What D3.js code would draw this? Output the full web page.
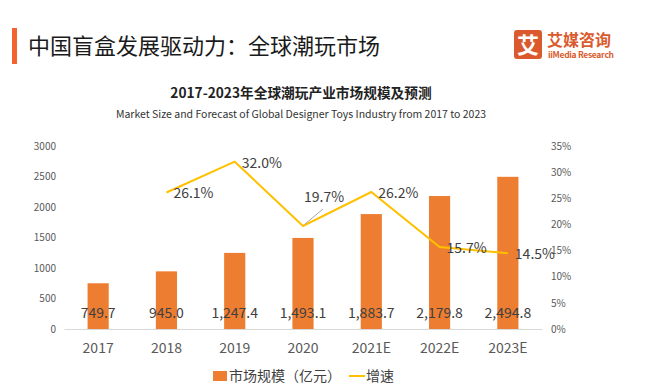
<!DOCTYPE html>
<html>
<head>
<meta charset="utf-8">
<style>
  body { margin: 0; background: #fff; }
  text { font-family: "Noto Sans CJK SC", "Noto Sans", sans-serif; }
</style>
</head>
<body>
<script src="https://d3js.org/d3.v7.min.js"></script>
<script>
var width = 650, height = 389;

// data
var years = ["2017", "2018", "2019", "2020", "2021E", "2022E", "2023E"];
var marketSize = [749.7, 945.0, 1247.4, 1493.1, 1883.7, 2179.8, 2494.8];
var growth = [null, 26.1, 32.0, 19.7, 26.2, 15.7, 14.5];
var leftTicks = [0, 500, 1000, 1500, 2000, 2500, 3000];
var rightTicks = [0, 5, 10, 15, 20, 25, 30, 35];

var barColor = "#ED7D31", lineColor = "#FFC000";

var svg = d3.select("body").append("svg")
    .attr("width", width)
    .attr("height", height);

// header
svg.append("rect").attr("x", 12).attr("y", 28).attr("width", 5).attr("height", 36).attr("fill", "#F4622F");
svg.append("text").attr("x", 28).attr("y", 46).attr("dy", "0.35em")
    .attr("font-size", 22).attr("fill", "#1a1a1a")
    .text("中国盲盒发展驱动力：全球潮玩市场");

// logo
var logo = svg.append("g");
logo.append("rect").attr("x", 514).attr("y", 30).attr("width", 28).attr("height", 29).attr("rx", 3).attr("fill", "#DA5A2E");
logo.append("text").attr("x", 528).attr("y", 45).attr("dy", "0.35em").attr("text-anchor", "middle")
    .attr("font-size", 22).attr("font-weight", "bold").attr("fill", "#fff").text("艾");
logo.append("text").attr("x", 547).attr("y", 46).attr("dominant-baseline", "alphabetic")
    .attr("font-size", 16).attr("font-weight", "bold").attr("fill", "#DA5A2E").text("艾媒咨询");
logo.append("text").attr("x", 548).attr("y", 58)
    .attr("font-size", 8.5).attr("font-weight", "bold").attr("fill", "#DA5A2E")
    .attr("textLength", 66).text("iiMedia Research");

// chart titles
svg.append("text").attr("x", 301).attr("y", 93).attr("dy", "0.35em").attr("text-anchor", "middle")
    .attr("font-size", 13.7).attr("font-weight", "bold").attr("fill", "#222")
    .text("2017-2023年全球潮玩产业市场规模及预测");
svg.append("text").attr("x", 301).attr("y", 114).attr("dy", "0.35em").attr("text-anchor", "middle")
    .attr("font-size", 10.5).attr("fill", "#333")
    .text("Market Size and Forecast of Global Designer Toys Industry from 2017 to 2023");

// scales
var x = d3.scaleBand().domain(years).range([64, 542]).paddingInner(0.69).paddingOuter(0.345);
var y = d3.scaleLinear().domain([0, 3000]).range([329, 146]);
var y2 = d3.scaleLinear().domain([0, 35]).range([329, 146]);

// axes
var leftAxis = svg.append("g").attr("transform", "translate(56,0)")
    .call(d3.axisLeft(y).tickValues(leftTicks).tickSize(0).tickPadding(0).tickFormat(d3.format("d")));
var rightAxis = svg.append("g").attr("transform", "translate(551,0)")
    .call(d3.axisRight(y2).tickValues(rightTicks).tickSize(0).tickPadding(0).tickFormat(function (d) { return d + "%"; }));
[leftAxis, rightAxis].forEach(function (a) {
    a.select(".domain").remove();
    a.selectAll("text").attr("font-size", 10).attr("fill", "#595959").attr("font-family", "\"Noto Sans CJK SC\", sans-serif");
});

var bottomAxis = svg.append("g").attr("transform", "translate(0,329)")
    .call(d3.axisBottom(x).tickSize(0).tickPadding(14));
bottomAxis.select(".domain").attr("stroke", "#D9D9D9").attr("stroke-width", 1);
bottomAxis.selectAll("text").attr("font-size", 14).attr("fill", "#595959").attr("font-family", "\"Noto Sans CJK SC\", sans-serif");

// bars
svg.selectAll("rect.bar").data(marketSize).enter().append("rect")
    .attr("class", "bar")
    .attr("x", function (d, i) { return x(years[i]); })
    .attr("y", function (d) { return y(d); })
    .attr("width", x.bandwidth())
    .attr("height", function (d) { return y(0) - y(d); })
    .attr("fill", barColor);

svg.selectAll("text.barlabel").data(marketSize).enter().append("text")
    .attr("class", "barlabel")
    .attr("x", function (d, i) { return x(years[i]) + x.bandwidth() / 2; })
    .attr("y", y(0) - 16)
    .attr("dy", "0.35em")
    .attr("text-anchor", "middle")
    .attr("font-size", 14).attr("fill", "#404040")
    .text(function (d) { return d3.format(",.1f")(d); });

// growth line
var pts = growth.map(function (g, i) { return { year: years[i], v: g }; }).filter(function (d) { return d.v !== null; });
var line = d3.line()
    .x(function (d) { return x(d.year) + x.bandwidth() / 2; })
    .y(function (d) { return y2(d.v); });
svg.append("path").datum(pts)
    .attr("d", line)
    .attr("fill", "none")
    .attr("stroke", lineColor)
    .attr("stroke-width", 2);

// leader line for 2020 label
var p2020 = pts.filter(function (d) { return d.year === "2020"; })[0];
var lx = x(p2020.year) + x.bandwidth() / 2, ly = y2(p2020.v);
svg.append("line").attr("x1", lx + 2).attr("y1", ly - 2).attr("x2", lx + 20).attr("y2", ly - 17)
    .attr("stroke", "#A6A6A6").attr("stroke-width", 1);

svg.selectAll("text.linelabel").data(pts).enter().append("text")
    .attr("class", "linelabel")
    .attr("x", function (d) { return x(d.year) + x.bandwidth() / 2 + (d.year === "2020" ? 1 : 7); })
    .attr("y", function (d) { return y2(d.v) + (d.year === "2020" ? -29 : 1); })
    .attr("dy", "0.35em")
    .attr("font-size", 14).attr("fill", "#404040")
    .text(function (d) { return d.v.toFixed(1) + "%"; });

// legend
var legend = svg.append("g");
legend.append("rect").attr("x", 213).attr("y", 371).attr("width", 14).attr("height", 10).attr("fill", barColor);
legend.append("text").attr("x", 229).attr("y", 376).attr("dy", "0.35em")
    .attr("font-size", 14).attr("fill", "#404040").text("市场规模（亿元）");
legend.append("line").attr("x1", 349).attr("x2", 365).attr("y1", 376).attr("y2", 376)
    .attr("stroke", lineColor).attr("stroke-width", 2);
legend.append("text").attr("x", 366).attr("y", 376).attr("dy", "0.35em")
    .attr("font-size", 14).attr("fill", "#404040").text("增速");
</script>
</body>
</html>
